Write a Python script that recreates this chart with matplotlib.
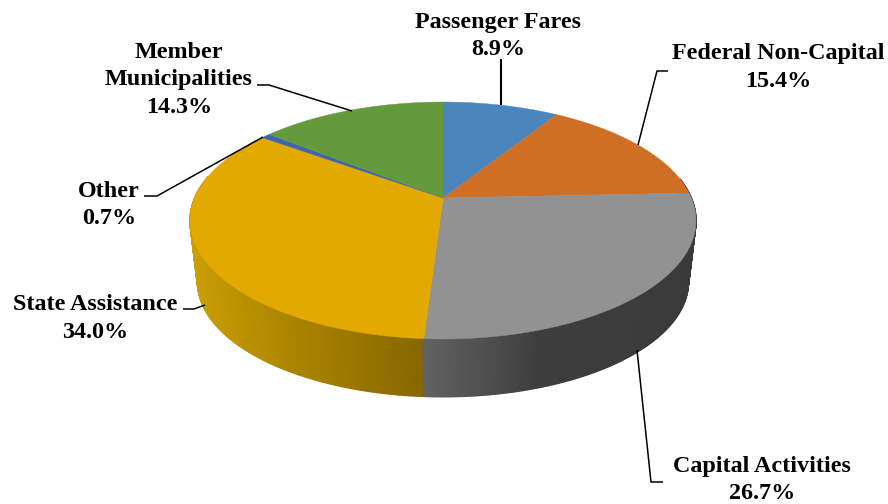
import matplotlib
matplotlib.use('Agg')
import matplotlib.pyplot as plt
import numpy as np

labels = ['Passenger Fares\n8.9%', 'Federal Non-Capital\n15.4%', 'Capital Activities\n26.7%',
          'State Assistance\n34.0%', 'Other\n0.7%', 'Member\nMunicipalities\n14.3%']
values = [8.9, 15.4, 26.7, 34.0, 0.7, 14.3]
colors = ['#4a85bd', '#cf6e25', '#929292', '#e2a900', '#3f66a8', '#659a3c']
label_pos = [(498, 36), (778, 67.5), (762, 480), (95, 318.5), (109, 205), (179, 80)]

# wall shading: dark/light stops over screen x for the two visible sides
gold_x, gold_c = [190, 300, 425], ['#c99e04', '#a88200', '#866600']
gray_x, gray_c = [425, 540, 700], ['#616161', '#3e3e3e', '#3a3a3a']

leaders_x = [[501, 501], [668, 657, 638], [637, 651, 663], [183, 194, 205], [144, 157, 263], [257, 269, 352]]
leaders_y = [[59, 105], [71, 71, 145], [350, 482, 482], [309, 309, 305], [196, 196, 137], [85, 85, 111]]

cx, cy = 443, 198
A, B, k = 248.4, 114.2, 0.19
depth, shrink = 62, 0.97


def top(theta):
    # perspective view of the disc, theta clockwise from 12 o'clock
    X, Y = np.sin(theta), np.cos(theta)
    w = 1 + k * Y
    return cx + A * X / w, cy - B * Y / w


def bottom(theta):
    x, y = top(theta)
    return cx + shrink * (x - cx), cy + shrink * (y - cy) + depth


def shade(x, xs, cs):
    rgb = np.array([matplotlib.colors.to_rgb(c) for c in cs])
    return [np.interp(x, xs, rgb[:, i]) for i in range(3)]


fig = plt.figure(figsize=(8.88, 5.04), dpi=100)
ax = fig.add_axes([0, 0, 1, 1])
ax.set_xlim(0, 888)
ax.set_ylim(504, 0)
ax.axis('off')

edges = np.radians(np.cumsum([0] + values) / sum(values) * 360)

# side wall, split in thin strips so the shading runs across it
steps = np.radians(np.arange(80, 282, 0.5))
split = edges[3]
for t0, t1 in zip(steps[:-1], steps[1:]):
    x0, y0 = top(t0)
    x1, y1 = top(t1)
    x2, y2 = bottom(t1)
    x3, y3 = bottom(t0)
    if t0 < split:
        c = shade((x0 + x1) / 2, gray_x, gray_c)
    else:
        c = shade((x0 + x1) / 2, gold_x, gold_c)
    ax.fill([x0, x1, x2, x3], [y0, y1, y2, y3], color=c, lw=1.0, zorder=1)

# top face
for i in range(len(values)):
    t = np.linspace(edges[i], edges[i + 1], 120)
    x, y = top(t)
    ax.fill(np.r_[cx, x], np.r_[cy, y], color=colors[i], lw=0.3, zorder=2)

for i, (lx, ly) in enumerate(zip(leaders_x, leaders_y)):
    ax.plot(lx, ly, color='black', lw=1.5 if i == 0 else 1.1, zorder=3, solid_capstyle='butt')

for s, (px, py) in zip(labels, label_pos):
    ax.text(px, py, s, ha='center', va='center', family='Liberation Serif', weight='bold',
            fontsize=17.4, linespacing=1.42, color='black', zorder=4)

fig.savefig('out.png', dpi=100)
